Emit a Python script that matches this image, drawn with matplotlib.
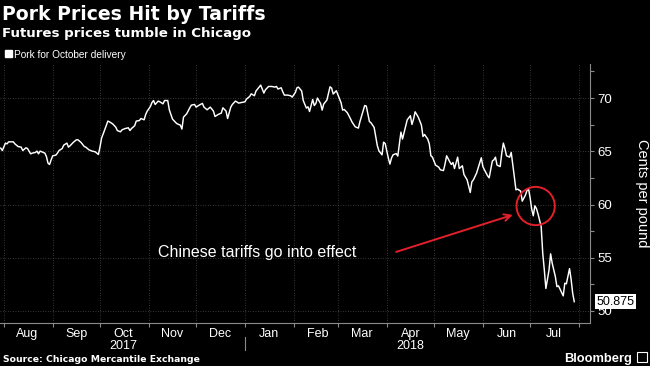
import matplotlib
matplotlib.use("Agg")
import matplotlib.pyplot as plt
import pandas as pd
from matplotlib.patches import Rectangle
from matplotlib.ticker import MultipleLocator

plt.rcParams["font.family"] = ["Liberation Sans", "DejaVu Sans"]

# text
title = "Pork Prices Hit by Tariffs"
subtitle = "Futures prices tumble in Chicago"
series_name = "Pork for October delivery"
source = "Source: Chicago Mercantile Exchange"
note = "Chinese tariffs go into effect"
y_label = "Cents per pound"
last_label = "50.875"

# pork futures, cents per pound
dates = [
    "2017-07-30", "2017-07-31", "2017-08-02", "2017-08-03", "2017-08-04", "2017-08-07", "2017-08-08", "2017-08-10",
    "2017-08-12", "2017-08-13", "2017-08-15", "2017-08-16", "2017-08-18", "2017-08-19", "2017-08-21", "2017-08-22",
    "2017-08-23", "2017-08-24", "2017-08-26", "2017-08-27", "2017-08-28", "2017-08-29", "2017-08-30", "2017-08-31",
    "2017-09-01", "2017-09-03", "2017-09-04", "2017-09-05", "2017-09-07", "2017-09-08", "2017-09-10", "2017-09-11",
    "2017-09-12", "2017-09-14", "2017-09-16", "2017-09-17", "2017-09-19", "2017-09-21", "2017-09-22", "2017-09-24",
    "2017-09-26", "2017-09-28", "2017-09-30", "2017-10-01", "2017-10-02", "2017-10-04", "2017-10-06", "2017-10-07",
    "2017-10-09", "2017-10-11", "2017-10-12", "2017-10-14", "2017-10-15", "2017-10-17", "2017-10-19", "2017-10-20",
    "2017-10-21", "2017-10-23", "2017-10-24", "2017-10-26", "2017-10-27", "2017-10-29", "2017-10-30", "2017-10-31",
    "2017-11-02", "2017-11-03", "2017-11-04", "2017-11-05", "2017-11-07", "2017-11-08", "2017-11-10", "2017-11-11",
    "2017-11-13", "2017-11-14", "2017-11-16", "2017-11-18", "2017-11-19", "2017-11-21", "2017-11-22", "2017-11-23",
    "2017-11-25", "2017-11-27", "2017-11-28", "2017-11-30", "2017-12-01", "2017-12-03", "2017-12-05", "2017-12-06",
    "2017-12-08", "2017-12-10", "2017-12-12", "2017-12-13", "2017-12-15", "2017-12-17", "2017-12-18", "2017-12-20",
    "2017-12-21", "2017-12-23", "2017-12-24", "2017-12-26", "2017-12-28", "2017-12-30", "2018-01-01", "2018-01-02",
    "2018-01-04", "2018-01-05", "2018-01-07", "2018-01-08", "2018-01-10", "2018-01-11", "2018-01-12", "2018-01-13",
    "2018-01-14", "2018-01-16", "2018-01-18", "2018-01-20", "2018-01-21", "2018-01-22", "2018-01-24", "2018-01-25",
    "2018-01-26", "2018-01-28", "2018-01-30", "2018-01-31", "2018-02-02", "2018-02-03", "2018-02-04", "2018-02-06",
    "2018-02-07", "2018-02-09", "2018-02-10", "2018-02-11", "2018-02-13", "2018-02-14", "2018-02-15", "2018-02-16",
    "2018-02-18", "2018-02-19", "2018-02-20", "2018-02-22", "2018-02-24", "2018-02-25", "2018-02-26", "2018-02-28",
    "2018-03-01", "2018-03-03", "2018-03-04", "2018-03-05", "2018-03-07", "2018-03-09", "2018-03-10", "2018-03-12",
    "2018-03-14", "2018-03-15", "2018-03-17", "2018-03-18", "2018-03-19", "2018-03-21", "2018-03-22", "2018-03-24",
    "2018-03-26", "2018-03-27", "2018-03-29", "2018-03-30", "2018-03-31", "2018-04-02", "2018-04-03", "2018-04-04",
    "2018-04-05", "2018-04-07", "2018-04-08", "2018-04-10", "2018-04-11", "2018-04-13", "2018-04-14", "2018-04-16",
    "2018-04-17", "2018-04-18", "2018-04-19", "2018-04-21", "2018-04-23", "2018-04-24", "2018-04-25", "2018-04-27",
    "2018-04-28", "2018-04-29", "2018-04-30", "2018-05-02", "2018-05-04", "2018-05-05", "2018-05-07", "2018-05-08",
    "2018-05-09", "2018-05-11", "2018-05-12", "2018-05-13", "2018-05-14", "2018-05-16", "2018-05-17", "2018-05-19",
    "2018-05-20", "2018-05-22", "2018-05-24", "2018-05-25", "2018-05-26", "2018-05-28", "2018-05-30", "2018-05-31",
    "2018-06-01", "2018-06-02", "2018-06-04", "2018-06-05", "2018-06-07", "2018-06-08", "2018-06-09", "2018-06-10",
    "2018-06-12", "2018-06-13", "2018-06-14", "2018-06-15", "2018-06-16", "2018-06-18", "2018-06-19", "2018-06-20",
    "2018-06-21", "2018-06-22", "2018-06-23", "2018-06-25", "2018-06-26", "2018-06-28", "2018-06-29", "2018-06-30",
    "2018-07-01", "2018-07-02", "2018-07-03", "2018-07-04", "2018-07-05", "2018-07-06", "2018-07-08", "2018-07-09",
    "2018-07-10", "2018-07-11", "2018-07-13", "2018-07-14", "2018-07-15", "2018-07-17", "2018-07-18", "2018-07-19",
    "2018-07-20", "2018-07-22", "2018-07-23", "2018-07-24", "2018-07-26", "2018-07-27", "2018-07-28", "2018-07-29",
]
prices = [
    65.30, 65.07, 65.77, 65.70, 65.89, 65.89, 65.70, 65.45,
    65.39, 65.07, 65.33, 65.26, 64.76, 64.83, 64.89, 65.02,
    64.76, 65.02, 64.89, 64.83, 64.51, 63.89, 63.76, 64.20,
    64.58, 64.64, 64.83, 65.07, 65.26, 65.58, 65.77, 65.39,
    65.52, 65.83, 66.08, 66.08, 65.83, 65.45, 65.39, 65.14,
    65.02, 64.95, 64.70, 65.40, 66.24, 67.02, 67.84, 67.77,
    67.58, 67.27, 66.95, 66.83, 67.02, 67.14, 67.21, 66.95,
    67.14, 67.40, 67.84, 67.89, 68.08, 67.96, 68.46, 68.78,
    69.21, 69.59, 69.77, 69.40, 69.72, 69.65, 69.46, 69.77,
    69.77, 68.90, 68.03, 67.71, 67.58, 67.46, 67.09, 68.21,
    68.52, 69.09, 69.34, 69.40, 69.15, 69.34, 69.50, 69.15,
    68.90, 69.15, 68.78, 68.27, 68.46, 68.59, 69.09, 68.78,
    68.08, 69.15, 69.40, 69.72, 69.53, 69.59, 69.65, 69.91,
    70.15, 70.40, 70.22, 70.66, 71.03, 71.22, 70.85, 70.47,
    70.78, 71.09, 71.09, 71.03, 71.09, 70.85, 70.97, 70.59,
    70.28, 70.28, 70.22, 70.09, 70.53, 70.97, 71.03, 70.66,
    69.77, 69.06, 69.18, 68.74, 69.87, 69.30, 69.49, 70.00,
    69.49, 68.87, 69.44, 69.81, 71.06, 70.94, 70.38, 70.69,
    70.31, 69.56, 68.87, 68.93, 68.62, 68.05, 67.74, 67.30,
    67.18, 67.80, 68.81, 69.30, 69.25, 67.80, 67.68, 67.24,
    65.54, 65.05, 64.67, 65.86, 65.73, 64.36, 63.80, 64.36,
    64.67, 64.79, 64.55, 66.80, 66.15, 67.33, 67.96, 68.34,
    67.52, 68.03, 68.71, 68.21, 67.46, 66.39, 66.58, 66.15,
    65.70, 64.58, 64.45, 63.70, 63.51, 63.26, 63.19, 63.82,
    64.58, 64.01, 63.76, 63.95, 63.38, 64.45, 63.38, 63.64,
    62.82, 62.32, 61.13, 62.13, 62.32, 62.95, 63.89, 64.39,
    63.57, 63.26, 62.70, 62.51, 64.08, 64.20, 64.45, 63.70,
    63.57, 64.83, 65.77, 65.26, 64.58, 64.45, 64.89, 63.76,
    62.57, 61.38, 61.45, 61.26, 60.32, 60.88, 61.32, 61.45,
    60.63, 59.57, 58.94, 59.88, 59.62, 59.12, 57.93, 55.43,
    53.86, 52.11, 53.86, 55.37, 54.49, 53.23, 52.29, 52.36,
    52.05, 51.42, 52.61, 52.55, 53.98, 52.99, 51.67, 50.875,
]

month_labels = ["Aug", "Sep", "Oct\n2017", "Nov", "Dec", "Jan", "Feb", "Mar", "Apr\n2018", "May", "Jun", "Jul"]
y_ticks = [50, 55, 60, 65, 70]

# annotation anchors
arrow_tip = ("2018-06-20", 59.03)
arrow_tail = ("2018-04-07", 55.55)
circle_at = ("2018-07-04 12:00", 59.86)

bg = "#000000"
fg = "#ffffff"
grey = "#8a8a8a"
grid_c = "#4a4a4a"
red = "#e3202a"
bold_font = ["DejaVu Sans"]

x = pd.to_datetime(dates)

fig = plt.figure(figsize=(6.5, 3.66), dpi=100, facecolor=bg)
ax = fig.add_axes([0.0, 0.1183, 0.9077, 0.7068])
ax.set_facecolor(bg)

ax.plot(x, prices, color=fg, lw=1.05, zorder=3)

ax.set_xlim(pd.Timestamp("2017-07-29 13:00"), pd.Timestamp("2018-08-08"))
ax.set_ylim(48.9, 73.2)

# y axis on the right
ax.yaxis.tick_right()
ax.set_yticks(y_ticks)
ax.yaxis.set_minor_locator(MultipleLocator(2.5))
ax.tick_params(axis="y", which="both", colors=grey, length=3, width=0.8,
               labelcolor=fg, labelsize=9.5, pad=2)

# x axis: ticks at month starts, labels mid-month
month_starts = pd.date_range("2017-08-01", "2018-08-01", freq="MS")
ax.set_xticks(month_starts)
ax.set_xticklabels([])
mid = month_starts[:-1] + pd.Timedelta(days=15)
ax.set_xticks(mid, labels=month_labels, minor=True)
ax.tick_params(axis="x", which="major", colors=grey, length=3, width=0.8)
ax.tick_params(axis="x", which="minor", length=0, labelcolor=fg, labelsize=9, pad=4)
for lbl in ax.get_xticklabels(minor=True):
    lbl.set_linespacing(1.0)

ax.grid(True, which="major", color=grid_c, lw=0.6, linestyle=(0, (1, 2)))

for s in ["left", "top"]:
    ax.spines[s].set_visible(False)
ax.spines["bottom"].set_color(grey)
ax.spines["right"].set_color(grey)

# small divider between years under the axis
jan1 = pd.Timestamp("2018-01-01")
ax.plot([jan1, jan1], [-0.055, -0.105], transform=ax.get_xaxis_transform(),
        color=grey, lw=0.8, clip_on=False)

# annotation: arrow, circle, text
ax.annotate("", xy=(pd.Timestamp(arrow_tip[0]), arrow_tip[1]),
            xytext=(pd.Timestamp(arrow_tail[0]), arrow_tail[1]),
            arrowprops=dict(arrowstyle="->", color=red, lw=1.4, shrinkA=0, shrinkB=0,
                            mutation_scale=12))
ax.scatter([pd.Timestamp(circle_at[0])], [circle_at[1]], s=760, facecolors="none",
           edgecolors=red, linewidths=1.4, zorder=4)
fig.text(158 / 650, 1 - 252 / 366, note, color=fg, fontsize=11.5, va="center", ha="left")

# last value tag
ax.text(1.011, 50.875, last_label, transform=ax.get_yaxis_transform(), color="#000000",
        fontsize=9, va="center", ha="left", zorder=6,
        bbox=dict(boxstyle="square,pad=0.12", fc=fg, ec="none"))

fig.text(642 / 650, 1 - 193 / 366, y_label, color=fg, fontsize=10.5, rotation=270,
         va="center", ha="center")

# titles and legend
fig.text(2 / 650, 1 - 20 / 366, title, color=fg, fontsize=13.6, fontweight="bold",
         va="baseline", family=bold_font)
fig.text(2 / 650, 1 - 36.7 / 366, subtitle, color=fg, fontsize=9.6, fontweight="bold",
         va="baseline", family=bold_font)
fig.patches.append(Rectangle((5 / 650, 1 - 57.3 / 366), 6.7 / 650, 7.3 / 366,
                             transform=fig.transFigure, color=fg))
fig.text(14.3 / 650, 1 - 58.3 / 366, series_name, color=fg, fontsize=7.3, va="baseline")

fig.text(3 / 650, 1 - 362 / 366, source, color=fg, fontsize=6.7, fontweight="bold",
         va="baseline", family=bold_font)
fig.text(632 / 650, 1 - 362 / 366, "Bloomberg", color=fg, fontsize=9.3, fontweight="bold",
         va="baseline", ha="right")
fig.patches.append(Rectangle((637 / 650, 1 - 362 / 366), 10 / 650, 10 / 366,
                             transform=fig.transFigure, fc="none", ec=fg, lw=0.8))

fig.savefig("out.png", dpi=100, facecolor=bg)
